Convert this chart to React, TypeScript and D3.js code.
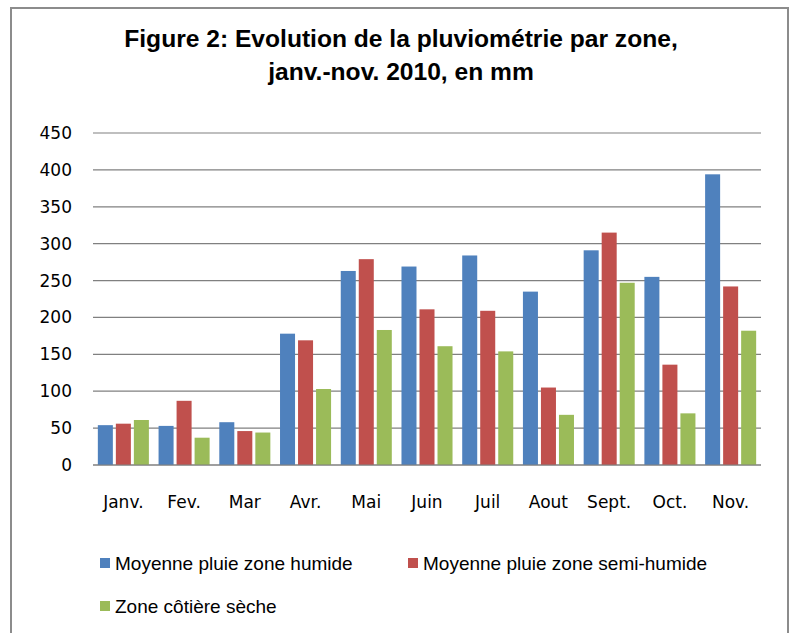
import React from 'react';
import * as d3 from 'd3';

const months = ['Janv.', 'Fev.', 'Mar', 'Avr.', 'Mai', 'Juin', 'Juil', 'Aout', 'Sept.', 'Oct.', 'Nov.'];
const humide = [54, 53, 58, 178, 263, 269, 284, 235, 291, 255, 394];
const semiHumide = [56, 87, 46, 169, 279, 211, 209, 105, 315, 136, 242];
const cotiere = [61, 37, 44, 103, 183, 161, 154, 68, 247, 70, 182];
const seriesNames = ['Moyenne pluie zone humide', 'Moyenne pluie zone semi-humide', 'Zone côtière sèche'];
const colors = ['#4F81BD', '#C0504D', '#9BBB59'];
const yTicks = [0, 50, 100, 150, 200, 250, 300, 350, 400, 450];

const W = 791;
const H = 633;
const plot = { left: 93, right: 761, top: 133, bottom: 465 };
const narrow = '"Liberation Sans Narrow", "Arial Narrow", "Liberation Sans", sans-serif';
const axisFont = '"DejaVu Sans", Verdana, sans-serif';

const App = () => {
  const series = [humide, semiHumide, cotiere];

  const x = d3.scaleBand<string>()
    .domain(months)
    .range([plot.left, plot.right])
    .paddingInner(0.11)
    .paddingOuter(0.055);

  const x1 = d3.scaleBand<number>()
    .domain([0, 1, 2])
    .range([0, x.bandwidth()]);

  const y = d3.scaleLinear()
    .domain([0, 450])
    .range([plot.bottom, plot.top]);

  return (
    <svg width={W} height={H} style={{ position: 'absolute', left: 0, top: 0, background: '#fff' }}>
      {/* cadre */}
      <path d={`M11,${H} V8 H788 V${H}`} fill="none" stroke="#8c8c8c" strokeWidth={2} />

      {/* titre */}
      <text x={401} y={47} textAnchor="middle" fontFamily={narrow} fontWeight="bold" fontSize={24.6} fill="#000">
        Figure 2: Evolution de la pluviométrie par zone,
      </text>
      <text x={401} y={80} textAnchor="middle" fontFamily={narrow} fontWeight="bold" fontSize={24.6} fill="#000">
        janv.-nov. 2010, en mm
      </text>

      {/* grille + axe y */}
      {yTicks.map(t => (
        <g key={t}>
          <line x1={plot.left} x2={plot.right} y1={y(t)} y2={y(t)} stroke="#808080" strokeWidth={1.2} />
          <text x={72} y={y(t)} dy="0.35em" textAnchor="end" fontFamily={axisFont} fontSize={17} fill="#000">
            {t}
          </text>
        </g>
      ))}

      {/* barres */}
      {months.map((m, i) => (
        <g key={m} transform={`translate(${x(m)},0)`}>
          {series.map((s, k) => (
            <rect
              key={k}
              x={(x1(k) as number) + 1.5}
              y={y(s[i])}
              width={x1.bandwidth() - 3}
              height={y(0) - y(s[i])}
              fill={colors[k]}
            />
          ))}
          <text
            x={x.bandwidth() / 2}
            y={508}
            textAnchor="middle"
            fontFamily={axisFont}
            fontSize={17}
            fill="#000"
          >
            {m}
          </text>
        </g>
      ))}

      {/* axe des x */}
      <line x1={plot.left} x2={plot.right} y1={y(0)} y2={y(0)} stroke="#808080" strokeWidth={1.2} />

      {/* légende */}
      {[
        { i: 0, lx: 100, ly: 563 },
        { i: 1, lx: 408, ly: 563 },
        { i: 2, lx: 100, ly: 606 },
      ].map(({ i, lx, ly }) => (
        <g key={i}>
          <rect x={lx} y={ly - 5} width={10} height={10} fill={colors[i]} />
          <text x={lx + 15} y={ly} dy="0.35em" fontFamily={narrow} fontSize={19} fill="#000">
            {seriesNames[i]}
          </text>
        </g>
      ))}
    </svg>
  );
};

export default App;
